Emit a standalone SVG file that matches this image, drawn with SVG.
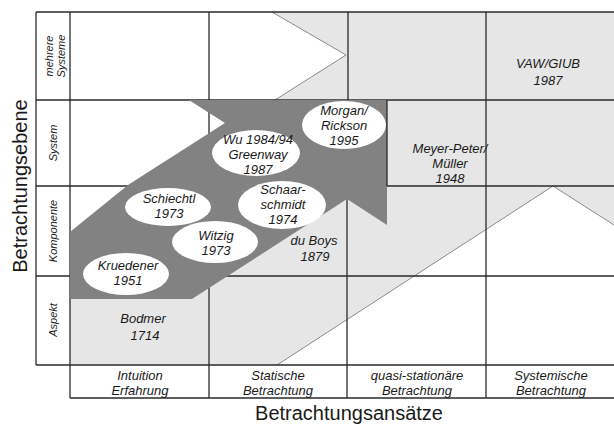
<svg xmlns="http://www.w3.org/2000/svg" width="614" height="427" viewBox="0 0 614 427">
  <style>
    .grid { stroke: #2a2a2a; stroke-width: 1.3; fill: none; }
    .edge { stroke: #8a8a8a; stroke-width: 1; fill: none; }
    .light { fill: #e6e6e6; }
    .white { fill: #ffffff; }
    .dark { fill: #828282; }
    .ell { fill: #ffffff; }
    text { font-family: "Liberation Sans", Arial, sans-serif; font-style: italic; fill: #1a1a1a; }
    .t { font-size: 13px; text-anchor: middle; }
    .row { font-size: 11px; text-anchor: middle; }
    .hdr { font-size: 13px; text-anchor: middle; }
    .axis { font-size: 20px; text-anchor: middle; font-style: normal; }
  </style>
  <rect x="0" y="0" width="614" height="427" fill="#ffffff"/>

  <g id="background">
    <rect class="light" x="70" y="12" width="544" height="353"/>
    <polygon class="white" points="70,12 272,12 346,55 275,100 189,100 225,123 128,185 70,232"/>
    <polygon class="white" points="277,365 553,186 614,225 614,365"/>
    <polyline class="edge" points="272,12 346,55 275,100"/>
    <polyline class="edge" points="277,365 553,186 614,225"/>
  </g>

  <g id="grid">
    <line class="grid" x1="36" y1="12" x2="614" y2="12"/>
    <line class="grid" x1="36" y1="100" x2="614" y2="100"/>
    <line class="grid" x1="36" y1="186" x2="614" y2="186"/>
    <line class="grid" x1="36" y1="276" x2="614" y2="276"/>
    <line class="grid" x1="36" y1="365" x2="614" y2="365"/>
    <line class="grid" x1="70" y1="398" x2="614" y2="398"/>
    <line class="grid" x1="36" y1="12" x2="36" y2="365"/>
    <line class="grid" x1="70" y1="12" x2="70" y2="398"/>
    <line class="grid" x1="209" y1="12" x2="209" y2="398"/>
    <line class="grid" x1="348" y1="12" x2="348" y2="100"/>
    <line class="grid" x1="347" y1="186" x2="347" y2="398"/>
    <line class="grid" x1="486" y1="12" x2="486" y2="398"/>
  </g>

  <g id="arrow">
    <polygon class="dark" points="70,232 128,185 225,123 189,100 387,100 387,225 347,199 192,299 70,299"/>
    <line class="grid" x1="387" y1="100" x2="387" y2="186"/>
  </g>

  <g id="rowlabels">
    <text class="row" transform="translate(53,56) rotate(-90)">mehrere</text>
    <text class="row" transform="translate(65,56) rotate(-90)">Systeme</text>
    <text class="row" transform="translate(57,143) rotate(-90)">System</text>
    <text class="row" transform="translate(57,231) rotate(-90)">Komponente</text>
    <text class="row" transform="translate(57,320) rotate(-90)">Aspekt</text>
  </g>

  <g id="headers">
    <text class="hdr" x="140" y="380">Intuition</text>
    <text class="hdr" x="140" y="395">Erfahrung</text>
    <text class="hdr" x="278" y="380">Statische</text>
    <text class="hdr" x="278" y="395">Betrachtung</text>
    <text class="hdr" x="417" y="380">quasi-stationäre</text>
    <text class="hdr" x="417" y="395">Betrachtung</text>
    <text class="hdr" x="551" y="380">Systemische</text>
    <text class="hdr" x="551" y="395">Betrachtung</text>
  </g>

  <text class="axis" x="349" y="420">Betrachtungsansätze</text>
  <text class="axis" transform="translate(27,186) rotate(-90)">Betrachtungsebene</text>

  <g id="morgan">
    <ellipse class="ell" cx="344" cy="125" rx="42" ry="24"/>
    <text class="t" x="344" y="115">Morgan/</text>
    <text class="t" x="344" y="130">Rickson</text>
    <text class="t" x="344" y="145">1995</text>
  </g>
  <g id="wu">
    <ellipse class="ell" cx="256" cy="153" rx="44" ry="23"/>
    <text class="t" x="258" y="144">Wu 1984/94</text>
    <text class="t" x="258" y="159">Greenway</text>
    <text class="t" x="258" y="174">1987</text>
  </g>
  <g id="schiechtl">
    <ellipse class="ell" cx="168" cy="207" rx="43" ry="19"/>
    <text class="t" x="169" y="203">Schiechtl</text>
    <text class="t" x="169" y="218">1973</text>
  </g>
  <g id="schaarschmidt">
    <ellipse class="ell" cx="282" cy="205" rx="44" ry="24"/>
    <text class="t" x="283" y="194">Schaar-</text>
    <text class="t" x="283" y="209">schmidt</text>
    <text class="t" x="283" y="224">1974</text>
  </g>
  <g id="witzig">
    <ellipse class="ell" cx="215" cy="242" rx="43" ry="21"/>
    <text class="t" x="216" y="240">Witzig</text>
    <text class="t" x="216" y="255">1973</text>
  </g>
  <g id="kruedener">
    <ellipse class="ell" cx="126" cy="274" rx="43" ry="21"/>
    <text class="t" x="128" y="270">Kruedener</text>
    <text class="t" x="128" y="285">1951</text>
  </g>
  <g id="bodmer">
    <text class="t" x="143" y="323">Bodmer</text>
    <text class="t" x="145" y="340">1714</text>
  </g>
  <g id="duboys">
    <text class="t" x="314" y="245">du Boys</text>
    <text class="t" x="315" y="261">1879</text>
  </g>
  <g id="meyerpeter">
    <text class="t" x="450" y="153">Meyer-Peter/</text>
    <text class="t" x="450" y="168">Müller</text>
    <text class="t" x="450" y="183">1948</text>
  </g>
  <g id="vaw">
    <text class="t" x="548" y="68">VAW/GIUB</text>
    <text class="t" x="548" y="85">1987</text>
  </g>
</svg>
